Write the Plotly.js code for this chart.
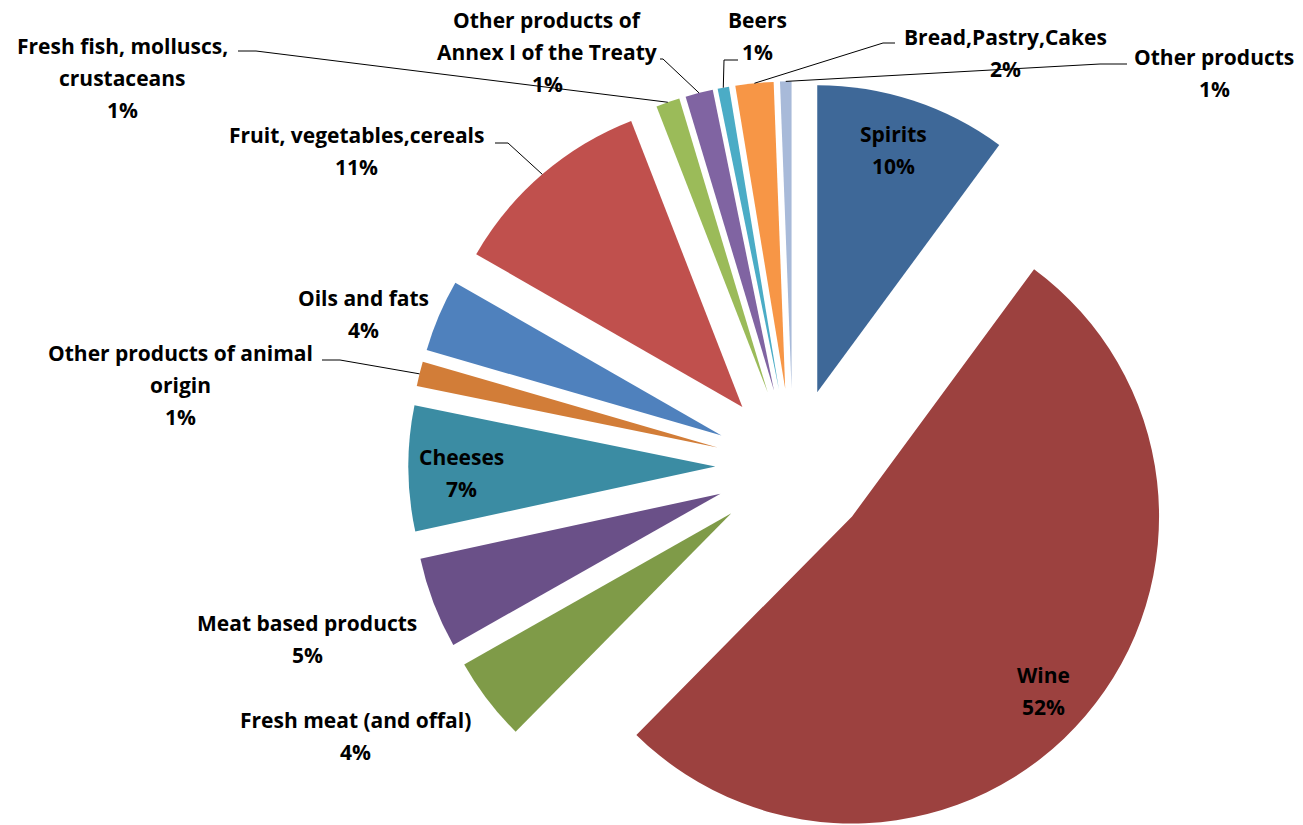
<!DOCTYPE html>
<html>
<head>
<meta charset="utf-8">
<script src="https://cdn.plot.ly/plotly-3.0.1.min.js"></script>
<style>
  html, body { margin: 0; padding: 0; background: #ffffff; overflow: hidden; }
  #chart { width: 1303px; }
</style>
</head>
<body>
<div id="chart"></div>
<script>
// ---------------- DATA ----------------
const categories = [
  "Spirits",
  "Wine",
  "Fresh meat (and offal)",
  "Meat based products",
  "Cheeses",
  "Other products of animal origin",
  "Oils and fats",
  "Fruit, vegetables,cereals",
  "Fresh fish, molluscs, crustaceans",
  "Other products of Annex I of the Treaty",
  "Beers",
  "Bread,Pastry,Cakes",
  "Other products"
];
const shares = [10.1, 52.3, 4.4, 4.8, 6.6, 1.3, 3.8, 10.8, 1.25, 1.45, 0.6, 2.0, 0.6];

// ---------------- STYLE / LAYOUT ----------------
const colors = ["#3E6898", "#9C413F", "#7F9B48", "#6A5088", "#3B8CA3", "#D27D38",
                "#4F81BD", "#C0504D", "#9BBB59", "#8064A2", "#4BACC6", "#F79646", "#A8BAD9"];

const W = 1303;
const CX = 793, CY = 466, R = 307, PULL = 0.253;
const HALF = R * (1 + PULL);
const H = Math.ceil(CY + HALF) + 1;

// label placement: [centerX, firstLineCenterY, wordsOnFirstLine (0 = one line), leader [startX, startY, kneeX] or null]
const labelCfg = [
  [893, 134, 0, null],
  [1043, 675, 0, null],
  [355, 720, 0, null],
  [307, 623, 0, null],
  [462, 457, 0, null],
  [180, 353, 4, [322, 360, 340]],
  [363, 298, 0, null],
  [356, 135, 0, [495, 143, 508]],
  [123, 46, 3, [238, 51, 256]],
  [547, 20, 3, [660, 59, 663]],
  [757, 20, 0, [738, 60, 724]],
  [1005, 37, 0, [895, 43, 883]],
  [1214, 57, 0, [1127, 64, 1100]]
];
const LINE_GAP = 32;
const FONT = {family: "'Open Sans', 'Noto Sans', sans-serif", size: 21, color: "#000000"};

// ---------------- BUILD ----------------
const total = shares.reduce((a, b) => a + b, 0);
const xp = px => px / W;
const yp = py => 1 - py / H;

const annotations = [];
const shapes = [];
let cum = 0;
shares.forEach((v, i) => {
  const mid = (cum + v / 2) / total * 2 * Math.PI;
  cum += v;
  const cfg = labelCfg[i];
  const words = categories[i].split(" ");
  const lines = cfg[2] > 0
    ? [words.slice(0, cfg[2]).join(" "), words.slice(cfg[2]).join(" ")]
    : [categories[i]];
  lines.push(Math.round(v / total * 100) + "%");
  lines.forEach((t, k) => {
    annotations.push({
      xref: "paper", yref: "paper",
      x: xp(cfg[0]), y: yp(cfg[1] + k * LINE_GAP),
      xanchor: "center", yanchor: "middle",
      text: "<b>" + t + "</b>", showarrow: false, font: FONT
    });
  });
  if (cfg[3]) {
    const [sx, sy, kx] = cfg[3];
    const ex = CX + R * (1 + PULL) * Math.sin(mid);
    const ey = CY - R * (1 + PULL) * Math.cos(mid);
    shapes.push({
      type: "path", xref: "paper", yref: "paper",
      path: `M ${xp(sx)} ${yp(sy)} L ${xp(kx)} ${yp(sy)} L ${xp(ex)} ${yp(ey)}`,
      line: {color: "#000000", width: 1}
    });
  }
});

const trace = {
  type: "pie",
  labels: categories,
  values: shares,
  sort: false,
  direction: "clockwise",
  rotation: 0,
  pull: PULL,
  textinfo: "none",
  hoverinfo: "label+percent",
  marker: {colors: colors, line: {width: 0}},
  domain: {
    x: [(CX - HALF) / W, (CX + HALF) / W],
    y: [(H - (CY + HALF)) / H, (H - (CY - HALF)) / H]
  },
  showlegend: false
};

const layout = {
  width: W, height: H,
  margin: {l: 0, r: 0, t: 0, b: 0},
  paper_bgcolor: "#ffffff",
  plot_bgcolor: "#ffffff",
  showlegend: false,
  annotations: annotations,
  shapes: shapes
};

Plotly.newPlot("chart", [trace], layout, {displayModeBar: false, staticPlot: true});
</script>
</body>
</html>
